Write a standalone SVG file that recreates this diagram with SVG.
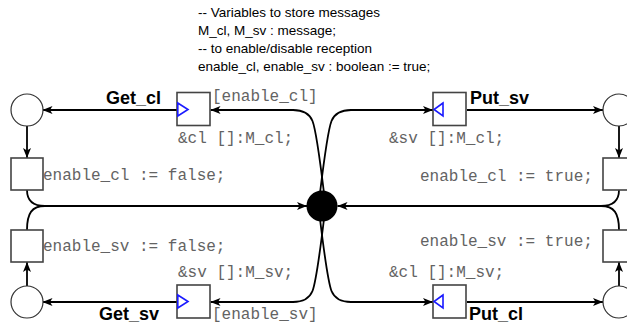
<svg xmlns="http://www.w3.org/2000/svg" width="627" height="327" viewBox="0 0 627 327">
  <style>
    .place { fill: #fff; stroke: #333; stroke-width: 1.2; }
    .trans { fill: #fff; stroke: #444; stroke-width: 1.6; }
    .port { fill: none; stroke: #1a1aff; stroke-width: 1.6; stroke-linejoin: miter; }
    .arc { fill: none; stroke: #000; stroke-width: 1.8; }
    .code { font-family: "Liberation Mono", "Courier New", monospace; font-size: 16px; fill: #636363; }
    .name { font-family: "Liberation Sans", Arial, sans-serif; font-size: 18px; font-weight: bold; fill: #000; }
    .decl { font-family: "Liberation Sans", Arial, sans-serif; font-size: 13.5px; fill: #000; }
  </style>
  <defs>
    <marker id="arr" viewBox="0 0 10 8" refX="10" refY="4" markerWidth="10" markerHeight="8" markerUnits="userSpaceOnUse" orient="auto">
      <path d="M0,0 L10,4 L0,8 L2.5,4 z" fill="#000"/>
    </marker>
  </defs>

  <!-- declarations -->
  <g id="declarations" class="decl">
    <text x="198" y="16.5">-- Variables to store messages</text>
    <text x="198" y="34.5">M_cl, M_sv : message;</text>
    <text x="198" y="52.5">-- to enable/disable reception</text>
    <text x="198" y="70.5">enable_cl, enable_sv : boolean := true;</text>
  </g>

  <!-- connectors -->
  <g id="connectors" class="arc">
    <!-- hub to receive transitions -->
    <path d="M324,193 C320,160 316,130 312.5,121 Q308,110 293,110 L210.5,110" marker-end="url(#arr)"/>
    <path d="M320,193 C324,160 328,130 331.5,121 Q336,110 351,110 L433,110" marker-end="url(#arr)"/>
    <path d="M324,219 C320,252 316,282 312.5,291 Q308,302 293,302 L210.5,302" marker-end="url(#arr)"/>
    <path d="M320,219 C324,252 328,282 331.5,291 Q336,302 351,302 L433,302" marker-end="url(#arr)"/>
    <!-- transitions to places -->
    <path d="M177,110 L42.5,110" marker-end="url(#arr)"/>
    <path d="M177,302 L42.5,302" marker-end="url(#arr)"/>
    <path d="M467,110 L603,110" marker-end="url(#arr)"/>
    <path d="M467,302 L603,302" marker-end="url(#arr)"/>
    <!-- places to update transitions -->
    <path d="M27,126 L27,158" marker-end="url(#arr)"/>
    <path d="M27,286 L27,262" marker-end="url(#arr)"/>
    <path d="M619,126 L619,158" marker-end="url(#arr)"/>
    <path d="M619,286 L619,262" marker-end="url(#arr)"/>
    <!-- update transitions back to hub -->
    <path d="M27,190 C27,200 32,206 45,206 L307,206" marker-end="url(#arr)"/>
    <path d="M27,230 C27,213 32,206 45,206"/>
    <path d="M619,190 C619,200 614,206 601,206 L337.5,206" marker-end="url(#arr)"/>
    <path d="M619,230 C619,213 614,206 601,206"/>
  </g>

  <!-- hub -->
  <g id="hub">
    <circle cx="322" cy="206" r="15.5" fill="#000"/>
  </g>

  <!-- client side -->
  <g id="get_cl">
    <rect class="trans" x="177" y="92.5" width="33" height="33"/>
    <polygon class="port" points="177.8,103 188,109.5 177.8,116"/>
    <text class="name" x="106" y="104">Get_cl</text>
    <text class="code" x="212" y="101">[enable_cl]</text>
    <text class="code" x="178" y="143">&amp;cl []:M_cl;</text>
  </g>
  <g id="p_cl_top">
    <circle class="place" cx="27" cy="110" r="16"/>
  </g>
  <g id="disable_cl">
    <rect class="trans" x="11" y="158" width="32" height="32"/>
    <text class="code" x="43" y="180">enable_cl := false;</text>
  </g>

  <g id="get_sv">
    <rect class="trans" x="177" y="285" width="33" height="33"/>
    <polygon class="port" points="177.8,295 188,301.5 177.8,308"/>
    <text class="name" x="99" y="320">Get_sv</text>
    <text class="code" x="212" y="319">[enable_sv]</text>
    <text class="code" x="178" y="277">&amp;sv []:M_sv;</text>
  </g>
  <g id="p_sv_bottom">
    <circle class="place" cx="27" cy="302" r="16"/>
  </g>
  <g id="disable_sv">
    <rect class="trans" x="11" y="230" width="32" height="32"/>
    <text class="code" x="43" y="250.5">enable_sv := false;</text>
  </g>

  <!-- server side -->
  <g id="put_sv">
    <rect class="trans" x="433" y="92.5" width="33" height="33"/>
    <polygon class="port" points="443,103 434,109.5 443,116"/>
    <text class="name" x="470" y="104">Put_sv</text>
    <text class="code" x="389" y="143">&amp;sv []:M_cl;</text>
  </g>
  <g id="p_sv_top">
    <circle class="place" cx="619" cy="110" r="16"/>
  </g>
  <g id="enable_cl">
    <rect class="trans" x="603" y="158" width="32" height="32"/>
    <text class="code" x="420" y="181">enable_cl := true;</text>
  </g>

  <g id="put_cl">
    <rect class="trans" x="433" y="285" width="33" height="33"/>
    <polygon class="port" points="443,295 434,301.5 443,308"/>
    <text class="name" x="469" y="320">Put_cl</text>
    <text class="code" x="389" y="277">&amp;cl []:M_sv;</text>
  </g>
  <g id="p_cl_bottom">
    <circle class="place" cx="619" cy="302" r="16"/>
  </g>
  <g id="enable_sv">
    <rect class="trans" x="603" y="230" width="32" height="32"/>
    <text class="code" x="420" y="246">enable_sv := true;</text>
  </g>
</svg>
